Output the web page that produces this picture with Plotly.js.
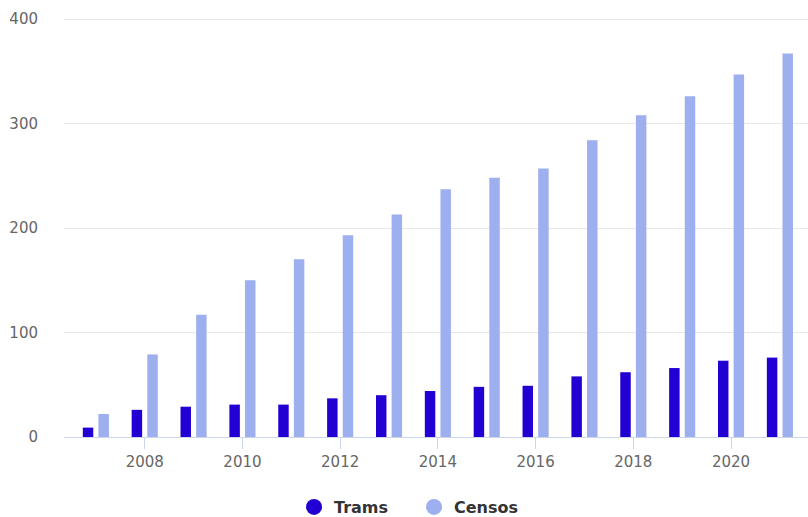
<!DOCTYPE html>
<html>
<head>
<meta charset="utf-8">
<script src="https://cdn.plot.ly/plotly-3.0.1.min.js"></script>
<style>html,body{margin:0;padding:0;background:#fff;}#chart{width:808px;height:517px;}</style>
</head>
<body>
<div id="chart"></div>
<script>
const years = [2007,2008,2009,2010,2011,2012,2013,2014,2015,2016,2017,2018,2019,2020,2021];
const trams = [9,26,29,31,31,37,40,44,48,49,58,62,66,73,76];
const censos = [22,79,117,150,170,193,213,237,248,257,284,308,326,347,367];
const xTicks = [2008,2010,2012,2014,2016,2018,2020];
const yTicks = [0,100,200,300,400];

const cTrams = '#2200d4';
const cCensos = '#9dafef';

const data = [
  {type:'bar', name:'Trams', x:years, y:trams, marker:{color:cTrams}, showlegend:false, hoverinfo:'x+y'},
  {type:'bar', name:'Censos', x:years, y:censos, marker:{color:cCensos}, showlegend:false, hoverinfo:'x+y'},
  {type:'scatter', mode:'markers', name:'Trams', x:[null], y:[null], marker:{color:cTrams, size:16, symbol:'circle'}, showlegend:true},
  {type:'scatter', mode:'markers', name:'Censos', x:[null], y:[null], marker:{color:cCensos, size:16, symbol:'circle'}, showlegend:true}
];

const layout = {
  width:808, height:517,
  margin:{l:64, r:0, t:18, b:80},
  paper_bgcolor:'#ffffff', plot_bgcolor:'#ffffff',
  barmode:'group', bargap:0.36, bargroupgap:0.33,
  font:{family:'DejaVu Sans, sans-serif', color:'#666666', size:15},
  xaxis:{
    range:[2006.348, 2021.575], tickvals:xTicks, ticktext:xTicks.map(String),
    showgrid:false, zeroline:false, showline:true, linecolor:'#ccd6eb', linewidth:1,
    ticks:'outside', ticklen:11, tickcolor:'#ccd6eb', tickwidth:1,
    tickfont:{size:15, color:'#666666'}
  },
  yaxis:{
    range:[0,401], tickvals:yTicks, showgrid:true, gridcolor:'#e8e8e8', gridwidth:1,
    zeroline:false, showline:false, ticks:'', ticklabelstandoff:25,
    tickfont:{size:15, color:'#666666'}
  },
  showlegend:true,
  legend:{
    orientation:'h', xref:'container', yref:'container', x:0.3639, xanchor:'left', y:0.0193, yanchor:'middle',
    entrywidth:75, entrywidthmode:'pixels',
    font:{size:16, color:'#333333', family:'DejaVu Sans, sans-serif', weight:'bold'},
    bgcolor:'rgba(0,0,0,0)', itemclick:false
  }
};

Plotly.newPlot('chart', data, layout, {displayModeBar:false, staticPlot:true});
</script>
</body>
</html>
